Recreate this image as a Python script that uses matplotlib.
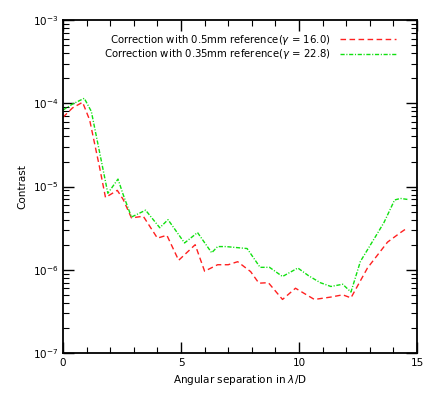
import matplotlib

matplotlib.use("Agg")
import matplotlib.pyplot as plt  # noqa: E402
from matplotlib.ticker import LogLocator, MultipleLocator, NullFormatter  # noqa: E402

# separation (lambda/D) and contrast
sep_red = [0.0, 0.4, 0.83, 1.13, 1.55, 1.8, 2.0, 2.3, 2.55, 2.9, 3.4, 4.0, 4.4,
           4.9, 5.6, 6.0, 6.55, 7.0, 7.4, 7.95, 8.3, 8.7, 9.3, 9.85, 10.65,
           11.35, 11.85, 12.2, 12.9, 13.75, 14.3, 14.6]
con_red = [6.8e-5, 8.8e-5, 1.03e-4, 6.3e-5, 1.7e-5, 7.4e-6, 8.0e-6, 9.0e-6,
           7.0e-6, 4.2e-6, 4.4e-6, 2.4e-6, 2.6e-6, 1.3e-6, 2.0e-6, 9.6e-7,
           1.15e-6, 1.15e-6, 1.25e-6, 9.5e-7, 6.9e-7, 7.0e-7, 4.4e-7, 6.0e-7,
           4.4e-7, 4.7e-7, 5.0e-7, 4.6e-7, 1.05e-6, 2.15e-6, 2.8e-6, 3.2e-6]

sep_green = [0.0, 0.4, 0.9, 1.2, 1.6, 1.9, 2.33, 2.55, 2.9, 3.5, 4.1, 4.45,
             5.15, 5.7, 6.3, 6.55, 6.9, 7.8, 8.35, 8.75, 9.3, 9.95, 10.4,
             10.9, 11.35, 11.85, 12.2, 12.6, 13.2, 13.6, 14.05, 14.3, 14.6]
con_green = [8.3e-5, 9.8e-5, 1.15e-4, 8.0e-5, 2.2e-5, 8.3e-6, 1.23e-5, 8.0e-6,
             4.3e-6, 5.2e-6, 3.2e-6, 4.0e-6, 2.1e-6, 2.8e-6, 1.6e-6, 1.9e-6,
             1.9e-6, 1.8e-6, 1.07e-6, 1.07e-6, 8.3e-7, 1.05e-6, 8.5e-7, 7.0e-7,
             6.3e-7, 6.7e-7, 5.4e-7, 1.26e-6, 2.4e-6, 3.7e-6, 6.9e-6, 7.2e-6, 7.0e-6]

labels = ["Correction with 0.5mm reference($\\gamma$ = 16.0)",
          "Correction with 0.35mm reference($\\gamma$ = 22.8)"]

fig = plt.figure(figsize=(4.36, 3.93), dpi=100)
ax = fig.add_axes([0.1445, 0.1018, 0.812, 0.847])

ax.plot(sep_red, con_red, color="#ff2020", ls=(0, (4, 2.5)), lw=1.0, label=labels[0])
ax.plot(sep_green, con_green, color="#10e010", ls=(0, (3, 1.2, 0.8, 1.2)), lw=1.0,
        label=labels[1])

ax.set_yscale("log")
ax.set_xlim(0, 15)
ax.set_ylim(1e-7, 1e-3)
ax.xaxis.set_major_locator(MultipleLocator(5))
ax.xaxis.set_minor_locator(MultipleLocator(1))
ax.yaxis.set_major_locator(LogLocator(base=10, numticks=10))
ax.yaxis.set_minor_locator(LogLocator(base=10, subs=range(2, 10), numticks=10))
ax.yaxis.set_minor_formatter(NullFormatter())
ax.tick_params(which="both", direction="in", top=True, right=True, labelsize=7.5)
ax.tick_params(which="major", length=8, width=1)
ax.tick_params(which="minor", length=4, width=0.8)
for s in ax.spines.values():
    s.set_linewidth(1.3)

ax.set_xlabel("Angular separation in $\\lambda$/D", fontsize=7.5, labelpad=4)
ax.set_ylabel("Contrast", fontsize=7.5, labelpad=4)

ax.legend(loc="upper right", frameon=False, markerfirst=False, fontsize=7.3,
          handlelength=5.5, handletextpad=1.0, labelspacing=0.05,
          bbox_to_anchor=(0.967, 0.99))

fig.savefig("out.png", dpi=100)
